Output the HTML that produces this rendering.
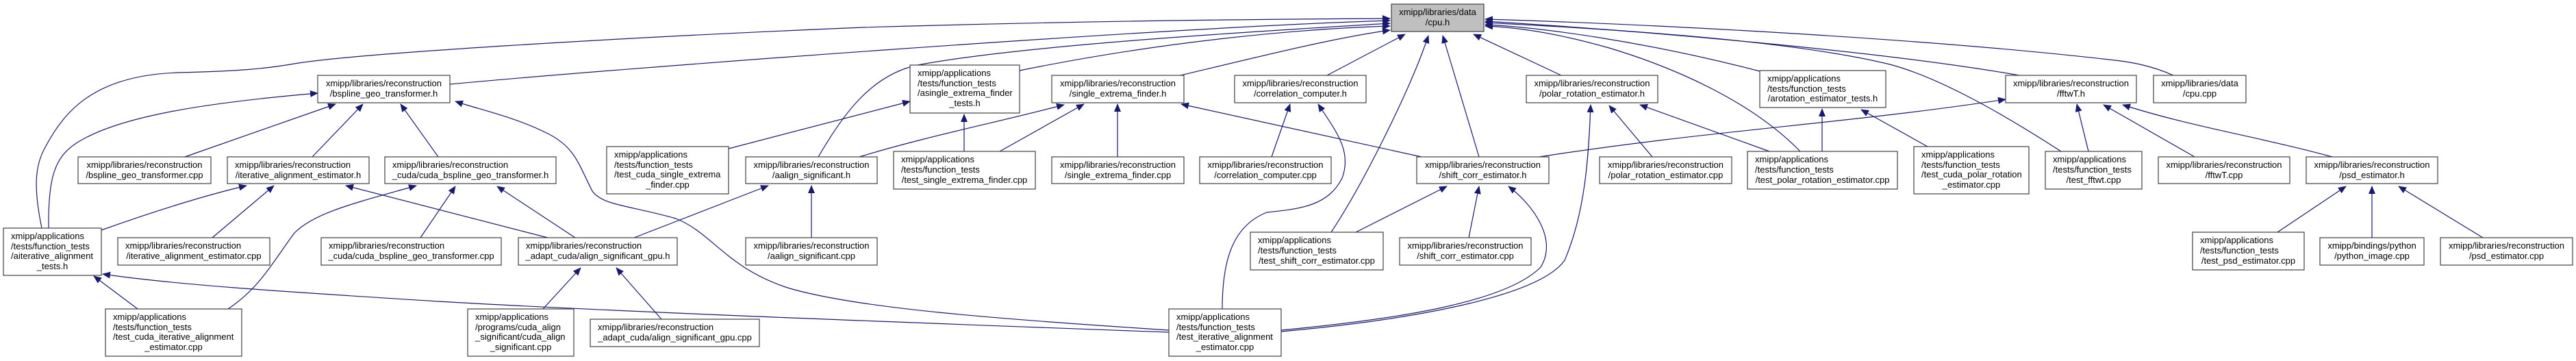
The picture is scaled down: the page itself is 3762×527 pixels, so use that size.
<!DOCTYPE html>
<html><head><meta charset="utf-8"><style>
html,body{margin:0;padding:0;background:#fff;}
svg{display:block;}
text{font-family:"Liberation Sans",Arial,sans-serif;font-size:13px;fill:#000;}
.e{fill:none;stroke:#191970;stroke-width:1.2;marker-end:url(#a);}
.n{fill:#fff;stroke:#404040;stroke-width:1.2;}
.c{text-anchor:middle;}
</style></head><body>
<svg width="3762" height="527" viewBox="0 0 3762 527" xmlns="http://www.w3.org/2000/svg">
<defs><marker id="a" markerWidth="12" markerHeight="10" refX="11" refY="5" orient="auto" markerUnits="userSpaceOnUse"><path d="M0,0 L12,5 L0,10 z" fill="#191970"/></marker></defs>

<!-- edges to cpu.h -->
<path class="e" d="M61,333 C48,270 52,240 66,215 C95,160 140,110 260,106 C350,104 390,100 430,93 C520,78 900,55 1260,40 C1600,30 1850,28 2030,27"/>
<path class="e" d="M657,123 C900,100 1700,40 2030,30"/>
<path class="e" d="M1195,229 C1230,170 1270,110 1340,95 C1500,65 1850,45 2030,34"/>
<path class="e" d="M1489,103 C1700,60 1900,42 2030,38"/>
<path class="e" d="M1724,110 C1850,80 1950,55 2030,44"/>
<path class="e" d="M1938,110 L2052,50"/>
<path class="e" d="M1944,339 C1990,270 2060,130 2086,52"/>
<path class="e" d="M2160,229 L2107,52"/>
<path class="e" d="M2280,110 L2152,50"/>
<path class="e" d="M2570,104 C2400,60 2250,40 2169,36"/>
<path class="e" d="M2629,221 C2560,150 2450,100 2350,70 C2280,50 2220,40 2169,38"/>
<path class="e" d="M3010,221 C2900,150 2820,110 2760,94 C2600,55 2300,40 2169,33"/>
<path class="e" d="M2949,110 C2750,75 2400,45 2169,31"/>
<path class="e" d="M3174,110 C3140,95 3110,90 3080,87 C2800,55 2400,35 2169,28"/>

<!-- bspline.h -->
<path class="e" d="M71,333 C70,260 80,230 110,210 C170,170 300,150 464,136"/>
<path class="e" d="M270,229 L490,152"/>
<path class="e" d="M456,229 L530,152"/>
<path class="e" d="M640,229 L585,152"/>
<path class="e" d="M1707,482 C1450,465 1250,450 1150,420 C1060,390 1040,340 987,319 C920,300 880,300 865,279 C845,240 840,215 800,195 C750,170 700,160 665,148"/>
<path class="e" d="M1707,485 C1300,470 900,455 640,440 C400,425 250,415 150,400"/>
<!-- iter.h -->
<path class="e" d="M148,336 C220,310 300,285 360,271"/>
<path class="e" d="M310,347 L400,271"/>
<path class="e" d="M800,347 L505,271"/>
<!-- cuda bspline.h -->
<path class="e" d="M333,451 C380,420 400,380 430,340 C460,310 520,296 608,271"/>
<path class="e" d="M614,347 L665,272"/>
<path class="e" d="M840,347 L726,272"/>
<!-- aalign.h -->
<path class="e" d="M926,347 L1122,271"/>
<path class="e" d="M1185,347 L1185,271"/>
<!-- asg_gpu.h -->
<path class="e" d="M793,451 L848,391"/>
<path class="e" d="M966,466 L900,391"/>
<path class="e" d="M201,451 L137,403"/>
<!-- asef tests -->
<path class="e" d="M1064,217 L1329,148"/>
<path class="e" d="M1408,221 L1408,167"/>
<!-- sef.h -->
<path class="e" d="M1255,229 C1350,200 1450,180 1554,153"/>
<path class="e" d="M1460,221 L1583,152"/>
<path class="e" d="M1632,229 L1632,152"/>
<path class="e" d="M2076,229 L1725,152"/>
<!-- cc.h -->
<path class="e" d="M1857,229 L1884,152"/>
<path class="e" d="M1785,451 C1785,380 1800,330 1850,310 C1900,305 1940,300 1960,260 C1975,220 1950,190 1925,152"/>
<!-- shift.h -->
<path class="e" d="M1980,339 L2113,272"/>
<path class="e" d="M2145,347 L2160,272"/>
<path class="e" d="M1871,482 C2050,465 2200,440 2250,390 C2275,350 2240,300 2203,272"/>
<!-- polar.h -->
<path class="e" d="M1871,484 C2080,465 2250,430 2285,380 C2315,310 2320,230 2323,153"/>
<path class="e" d="M2413,229 L2350,154"/>
<path class="e" d="M2584,221 L2395,153"/>
<!-- fftwT.h -->
<path class="e" d="M2248,229 C2500,190 2700,180 2929,145"/>
<path class="e" d="M3050,221 L3033,152"/>
<path class="e" d="M3205,229 L3072,153"/>
<path class="e" d="M3406,229 C3300,200 3200,185 3100,153"/>
<!-- arot -->
<path class="e" d="M2661,221 L2661,159"/>
<path class="e" d="M2815,214 L2718,160"/>
<!-- psd.h -->
<path class="e" d="M3326,339 L3426,272"/>
<path class="e" d="M3464,347 L3464,272"/>
<path class="e" d="M3626,347 L3503,272"/>

<!-- nodes -->
<rect x="2032" y="6" width="135" height="40" fill="#bfbfbf" stroke="#404040" stroke-width="1.2"/>
<text x="2099.5" y="22" class="c">xmipp/libraries/data</text><text x="2099.5" y="37" class="c">/cpu.h</text>

<rect class="n" x="464" y="110" width="193" height="40"/>
<text x="560.5" y="126" class="c">xmipp/libraries/reconstruction</text><text x="560.5" y="141" class="c">/bspline_geo_transformer.h</text>

<rect class="n" x="114" y="229" width="194" height="39"/>
<text x="211" y="245" class="c">xmipp/libraries/reconstruction</text><text x="211" y="260" class="c">/bspline_geo_transformer.cpp</text>

<rect class="n" x="332" y="229" width="207" height="39"/>
<text x="343" y="245">xmipp/libraries/reconstruction</text><text x="435.5" y="260" class="c">/iterative_alignment_estimator.h</text>

<rect class="n" x="562" y="229" width="250" height="39"/>
<text x="573" y="245">xmipp/libraries/reconstruction</text><text x="687" y="260" class="c">_cuda/cuda_bspline_geo_transformer.h</text>

<rect class="n" x="5" y="333" width="143" height="69"/>
<text x="16" y="349">xmipp/applications</text><text x="16" y="364">/tests/function_tests</text><text x="16" y="378">/aiterative_alignment</text><text x="76.5" y="393" class="c">_tests.h</text>

<rect class="n" x="172" y="347" width="222" height="40"/>
<text x="183" y="363">xmipp/libraries/reconstruction</text><text x="283" y="378" class="c">/iterative_alignment_estimator.cpp</text>

<rect class="n" x="469" y="347" width="263" height="40"/>
<text x="480" y="363">xmipp/libraries/reconstruction</text><text x="600.5" y="378" class="c">_cuda/cuda_bspline_geo_transformer.cpp</text>

<rect class="n" x="154" y="451" width="199" height="69"/>
<text x="165" y="467">xmipp/applications</text><text x="165" y="482">/tests/function_tests</text><text x="165" y="496">/test_cuda_iterative_alignment</text><text x="253.5" y="511" class="c">_estimator.cpp</text>

<rect class="n" x="757" y="347" width="232" height="40"/>
<text x="768" y="363">xmipp/libraries/reconstruction</text><text x="873" y="378" class="c">_adapt_cuda/align_significant_gpu.h</text>

<rect class="n" x="683" y="451" width="155" height="69"/>
<text x="694" y="467">xmipp/applications</text><text x="694" y="482">/programs/cuda_align</text><text x="694" y="496">_significant/cuda_align</text><text x="760.5" y="511" class="c">_significant.cpp</text>

<rect class="n" x="862" y="466" width="247" height="40"/>
<text x="873" y="482">xmipp/libraries/reconstruction</text><text x="985.5" y="497" class="c">_adapt_cuda/align_significant_gpu.cpp</text>

<rect class="n" x="886" y="214" width="178" height="69"/>
<text x="897" y="230">xmipp/applications</text><text x="897" y="245">/tests/function_tests</text><text x="897" y="259">/test_cuda_single_extrema</text><text x="975" y="274" class="c">_finder.cpp</text>

<rect class="n" x="1089" y="229" width="192" height="39"/>
<text x="1185" y="245" class="c">xmipp/libraries/reconstruction</text><text x="1185" y="260" class="c">/aalign_significant.h</text>

<rect class="n" x="1089" y="347" width="192" height="40"/>
<text x="1185" y="363" class="c">xmipp/libraries/reconstruction</text><text x="1185" y="378" class="c">/aalign_significant.cpp</text>

<rect class="n" x="1329" y="95" width="160" height="70"/>
<text x="1340" y="111">xmipp/applications</text><text x="1340" y="126">/tests/function_tests</text><text x="1340" y="140">/asingle_extrema_finder</text><text x="1409" y="155" class="c">_tests.h</text>

<rect class="n" x="1536" y="110" width="193" height="40"/>
<text x="1632.5" y="126" class="c">xmipp/libraries/reconstruction</text><text x="1632.5" y="141" class="c">/single_extrema_finder.h</text>

<rect class="n" x="1305" y="221" width="207" height="55"/>
<text x="1316" y="237">xmipp/applications</text><text x="1316" y="252">/tests/function_tests</text><text x="1408.5" y="267" class="c">/test_single_extrema_finder.cpp</text>

<rect class="n" x="1536" y="229" width="193" height="39"/>
<text x="1632.5" y="245" class="c">xmipp/libraries/reconstruction</text><text x="1632.5" y="260" class="c">/single_extrema_finder.cpp</text>

<rect class="n" x="1803" y="110" width="192" height="40"/>
<text x="1899" y="126" class="c">xmipp/libraries/reconstruction</text><text x="1899" y="141" class="c">/correlation_computer.h</text>

<rect class="n" x="1752" y="229" width="192" height="39"/>
<text x="1848" y="245" class="c">xmipp/libraries/reconstruction</text><text x="1848" y="260" class="c">/correlation_computer.cpp</text>

<rect class="n" x="1826" y="339" width="194" height="55"/>
<text x="1837" y="355">xmipp/applications</text><text x="1837" y="370">/tests/function_tests</text><text x="1923" y="385" class="c">/test_shift_corr_estimator.cpp</text>

<rect class="n" x="1707" y="451" width="164" height="69"/>
<text x="1718" y="467">xmipp/applications</text><text x="1718" y="482">/tests/function_tests</text><text x="1718" y="496">/test_iterative_alignment</text><text x="1789" y="511" class="c">_estimator.cpp</text>

<rect class="n" x="2069" y="229" width="193" height="39"/>
<text x="2165.5" y="245" class="c">xmipp/libraries/reconstruction</text><text x="2165.5" y="260" class="c">/shift_corr_estimator.h</text>

<rect class="n" x="2044" y="347" width="192" height="40"/>
<text x="2140" y="363" class="c">xmipp/libraries/reconstruction</text><text x="2140" y="378" class="c">/shift_corr_estimator.cpp</text>

<rect class="n" x="2229" y="110" width="192" height="40"/>
<text x="2325" y="126" class="c">xmipp/libraries/reconstruction</text><text x="2325" y="141" class="c">/polar_rotation_estimator.h</text>

<rect class="n" x="2336" y="229" width="193" height="39"/>
<text x="2432.5" y="245" class="c">xmipp/libraries/reconstruction</text><text x="2432.5" y="260" class="c">/polar_rotation_estimator.cpp</text>

<rect class="n" x="2570" y="103" width="184" height="54"/>
<text x="2581" y="119">xmipp/applications</text><text x="2581" y="134">/tests/function_tests</text><text x="2662" y="148" class="c">/arotation_estimator_tests.h</text>

<rect class="n" x="2552" y="221" width="219" height="55"/>
<text x="2563" y="237">xmipp/applications</text><text x="2563" y="252">/tests/function_tests</text><text x="2661.5" y="267" class="c">/test_polar_rotation_estimator.cpp</text>

<rect class="n" x="2795" y="214" width="168" height="69"/>
<text x="2806" y="230">xmipp/applications</text><text x="2806" y="245">/tests/function_tests</text><text x="2806" y="259">/test_cuda_polar_rotation</text><text x="2879" y="274" class="c">_estimator.cpp</text>

<rect class="n" x="2929" y="110" width="191" height="40"/>
<text x="3024.5" y="126" class="c">xmipp/libraries/reconstruction</text><text x="3024.5" y="141" class="c">/fftwT.h</text>

<rect class="n" x="2987" y="221" width="141" height="55"/>
<text x="2998" y="237">xmipp/applications</text><text x="2998" y="252">/tests/function_tests</text><text x="3057.5" y="267" class="c">/test_fftwt.cpp</text>

<rect class="n" x="3145" y="110" width="135" height="40"/>
<text x="3212.5" y="126" class="c">xmipp/libraries/data</text><text x="3212.5" y="141" class="c">/cpu.cpp</text>

<rect class="n" x="3152" y="229" width="192" height="39"/>
<text x="3248" y="245" class="c">xmipp/libraries/reconstruction</text><text x="3248" y="260" class="c">/fftwT.cpp</text>

<rect class="n" x="3368" y="229" width="192" height="39"/>
<text x="3464" y="245" class="c">xmipp/libraries/reconstruction</text><text x="3464" y="260" class="c">/psd_estimator.h</text>

<rect class="n" x="3202" y="339" width="163" height="55"/>
<text x="3213" y="355">xmipp/applications</text><text x="3213" y="370">/tests/function_tests</text><text x="3283.5" y="385" class="c">/test_psd_estimator.cpp</text>

<rect class="n" x="3388" y="347" width="152" height="40"/>
<text x="3464" y="363" class="c">xmipp/bindings/python</text><text x="3464" y="378" class="c">/python_image.cpp</text>

<rect class="n" x="3564" y="347" width="193" height="40"/>
<text x="3660.5" y="363" class="c">xmipp/libraries/reconstruction</text><text x="3660.5" y="378" class="c">/psd_estimator.cpp</text>
</svg>
</body></html>
